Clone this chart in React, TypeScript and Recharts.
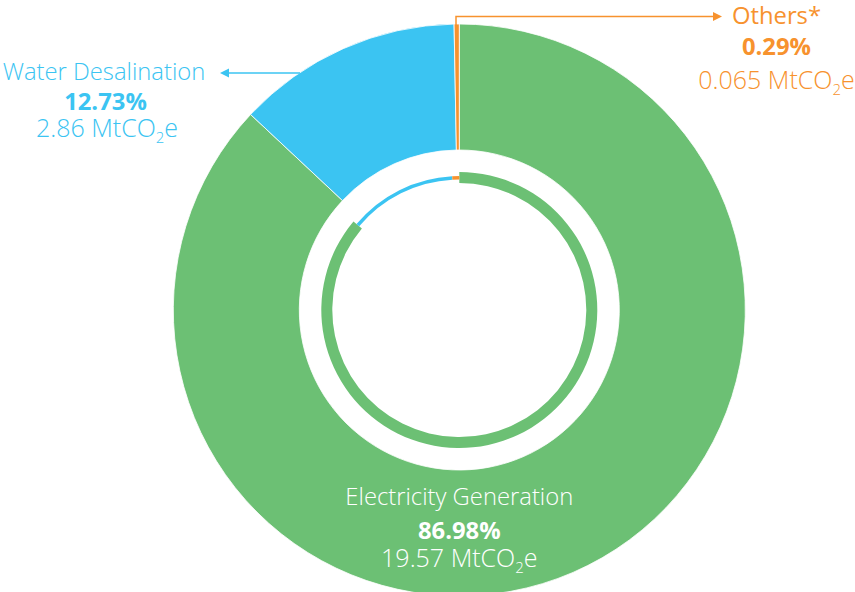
import React from "react";
import { PieChart, Pie, Cell } from "recharts";

const categories = ["Electricity Generation", "Water Desalination", "Others*"];
const shares = [86.98, 12.73, 0.29];
const emissions = ["19.57", "2.86", "0.065"];
const colors = ["#6CC074", "#3BC4F2", "#F7922E"];

const data = categories.map((name, i) => ({ name, value: shares[i], mt: emissions[i] }));

const CX = 459.3;
const CY = 310;
const FONT = "'Open Sans', Lato, sans-serif";
const FS = 23.8;
const FV = 25;

const Value = ({ x, y, mt, color }: { x: number; y: number; mt: string; color: string }) => (
  <text x={x} y={y} textAnchor="middle" fill={color} fontSize={FV} fontFamily={FONT} fontWeight={300}>
    {mt} MtCO
    <tspan dy={6} fontSize={15}>2</tspan>
    <tspan dy={-6}>e</tspan>
  </text>
);

const Labels = () => (
  <svg width={855} height={592} style={{ position: "absolute", left: 0, top: 0, pointerEvents: "none" }}>
    {/* Water Desalination */}
    <line x1={300} y1={73} x2={226} y2={73} stroke={colors[1]} strokeWidth={1.5} />
    <polygon points="220,73 229,68.5 229,77.5" fill={colors[1]} />
    <text x={104} y={80} textAnchor="middle" fill={colors[1]} fontSize={FS} fontFamily={FONT} fontWeight={300}>
      {categories[1]}
    </text>
    <text x={105.5} y={110} textAnchor="middle" fill={colors[1]} fontSize={FS} fontFamily={FONT} fontWeight={700}>
      {shares[1].toFixed(2)}%
    </text>
    <Value x={107} y={137} mt={emissions[1]} color={colors[1]} />

    {/* Others */}
    <polyline points="456,25 456,16.5 715,16.5" fill="none" stroke={colors[2]} strokeWidth={1.5} />
    <polygon points="722,16.5 713,12 713,21" fill={colors[2]} />
    <text x={776.5} y={23.5} textAnchor="middle" fill={colors[2]} fontSize={FS} fontFamily={FONT} fontWeight={400}>
      {categories[2]}
    </text>
    <text x={776.5} y={55} textAnchor="middle" fill={colors[2]} fontSize={FS} fontFamily={FONT} fontWeight={700}>
      {shares[2].toFixed(2)}%
    </text>
    <Value x={776.5} y={88.5} mt={emissions[2]} color={colors[2]} />

    {/* Electricity Generation */}
    <text x={459.3} y={505} textAnchor="middle" fill="#FFFFFF" fontSize={FS} fontFamily={FONT} fontWeight={300}>
      {categories[0]}
    </text>
    <text x={459.3} y={538.5} textAnchor="middle" fill="#FFFFFF" fontSize={FS} fontFamily={FONT} fontWeight={700}>
      {shares[0].toFixed(2)}%
    </text>
    <Value x={459.3} y={567} mt={emissions[0]} color="#FFFFFF" />
  </svg>
);

export default function App() {
  return (
    <div style={{ position: "absolute", left: 0, top: 0, width: 855, height: 592, background: "#fff", overflow: "hidden" }}>
      <PieChart width={855} height={592} margin={{ top: 0, right: 0, bottom: 0, left: 0 }}>
        <Pie
          data={data}
          dataKey="value"
          cx={CX}
          cy={CY}
          innerRadius={160}
          outerRadius={286}
          startAngle={90}
          endAngle={-270}
          stroke="#fff"
          strokeWidth={0.8}
          isAnimationActive={false}
        >
          {data.map((d, i) => (
            <Cell key={d.name} fill={colors[i]} />
          ))}
        </Pie>
        <Pie
          data={data}
          dataKey="value"
          cx={CX}
          cy={CY}
          innerRadius={127}
          outerRadius={138}
          startAngle={90}
          endAngle={-270}
          minAngle={2}
          stroke="none"
          isAnimationActive={false}
        >
          {data.map((d, i) => (
            <Cell key={d.name} fill={i === 0 ? colors[0] : "transparent"} />
          ))}
        </Pie>
        <Pie
          data={data}
          dataKey="value"
          cx={CX}
          cy={CY}
          innerRadius={130.5}
          outerRadius={134}
          startAngle={90}
          endAngle={-270}
          minAngle={2}
          stroke="none"
          isAnimationActive={false}
        >
          {data.map((d, i) => (
            <Cell key={d.name} fill={i === 0 ? "transparent" : colors[i]} />
          ))}
        </Pie>
      </PieChart>
      <Labels />
    </div>
  );
}
